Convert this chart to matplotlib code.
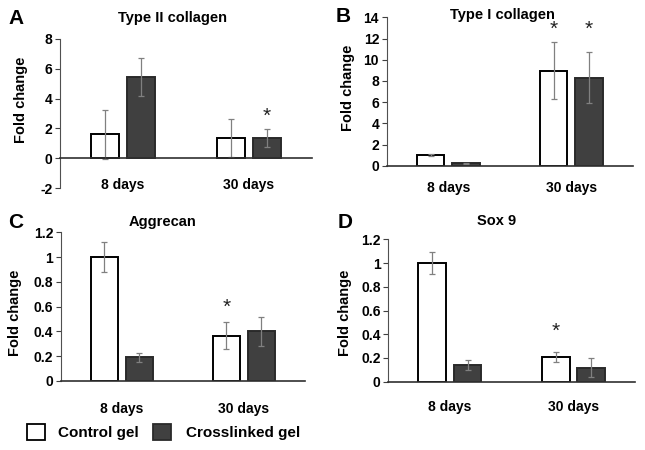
import numpy as np
import matplotlib
matplotlib.use('Agg')
import matplotlib.pyplot as plt
from matplotlib.ticker import FuncFormatter
from matplotlib.patches import Rectangle

plt.rcParams['font.family'] = ['Liberation Sans', 'DejaVu Sans']
plt.rcParams['font.weight'] = 'bold'
plt.rcParams['mathtext.fontset'] = 'custom'
plt.rcParams['mathtext.rm'] = 'Liberation Sans:weight=normal'

# ---------------------------
# Datos
# ---------------------------
categories = ['8 days', '30 days']
series = ['Control gel', 'Crosslinked gel']

titles = ['Type II collagen', 'Type I collagen', 'Aggrecan', 'Sox 9']
letters = ['A', 'B', 'C', 'D']

control_mean = [[1.6, 1.35], [1.0, 8.95], [1.0, 0.365], [1.0, 0.207]]
control_err = [[1.65, 1.25], [0.12, 2.7], [0.12, 0.11], [0.09, 0.042]]
crosslinked_mean = [[5.45, 1.35], [0.22, 8.29], [0.19, 0.40], [0.14, 0.117]]
crosslinked_err = [[1.3, 0.58], [0.06, 2.4], [0.035, 0.12], [0.045, 0.08]]

# asteriscos: (serie, categoria, altura)
stars = [[(1, 1, 2.9)],
         [(0, 1, 13.0), (1, 1, 13.0)],
         [(0, 1, 0.6)],
         [(0, 1, 0.43)]]

ylims = [(-2, 8), (0, 14), (0, 1.2), (0, 1.2)]
ysteps = [2, 2, 0.2, 0.2]

# ---------------------------
# Geometria (pixeles)
# ---------------------------
W, H = 645, 450
# (x0, x1, ytop, ybottom) del area de trazado
ax_px = [(60, 312, 39, 188), (386.7, 632.7, 17.3, 165.7),
         (60.7, 305, 232.3, 381), (388.3, 635, 239.3, 381.7)]
cat_pad = [14.5, 11, 15, 13]          # separacion etiquetas categoria (pt)
title_px = [(172, 18), (502, 14.5), (163, 222), (497, 221)]
letter_px = [(16, 18), (343, 16), (16, 222), (345, 222)]
ylabel_px = [(21, 100), (348, 88), (15, 313), (345, 313)]

fig = plt.figure(figsize=(W / 100, H / 100), dpi=100)

def fx(x):
    return x / W

def fy(y):
    return 1 - y / H

bar_w = 0.225
offs = [-0.143, 0.143]
face = ['white', '#404040']
edge = ['black', '#2a2a2a']

for k in range(4):
    x0, x1, yt, yb = ax_px[k]
    ax = fig.add_axes([fx(x0), fy(yb), fx(x1 - x0), (yb - yt) / H])
    xs = np.arange(len(categories))
    means = [control_mean[k], crosslinked_mean[k]]
    errs = [control_err[k], crosslinked_err[k]]
    for s in range(2):
        ax.bar(xs + offs[s], means[s], width=bar_w, color=face[s],
               edgecolor=edge[s], linewidth=1.4, zorder=2)
        ax.errorbar(xs + offs[s], means[s], yerr=errs[s], fmt='none',
                    ecolor='#808080', elinewidth=0.9, capsize=2.5,
                    capthick=0.9, zorder=3)
    for s, c, h in stars[k]:
        ax.text(xs[c] + offs[s], h, r'$\mathrm{*}$', ha='center', va='center',
                fontsize=15, fontweight='normal', color='#222222')

    lo, hi = ylims[k]
    ax.set_ylim(lo, hi)
    ax.set_xlim(-0.5, 1.5)
    ax.set_yticks(np.round(np.arange(lo, hi + ysteps[k] / 2, ysteps[k]), 2))
    ax.yaxis.set_major_formatter(FuncFormatter(lambda v, p: f'{v:g}'))
    ax.set_xticks(xs)
    ax.set_xticklabels(categories, fontsize=10, fontweight='bold')
    ax.tick_params(axis='x', length=0, pad=cat_pad[k])
    ax.tick_params(axis='y', direction='out', length=3.5, width=0.8,
                   pad=2, labelsize=10, color='#404040')
    for lab in ax.get_yticklabels():
        lab.set_fontweight('bold')

    ax.spines['top'].set_visible(False)
    ax.spines['right'].set_visible(False)
    ax.spines['left'].set_color('#505050')
    ax.spines['left'].set_linewidth(0.8)
    ax.spines['bottom'].set_position(('data', 0))
    ax.spines['bottom'].set_color('#303030')
    ax.spines['bottom'].set_linewidth(1.2)
    ax.spines['bottom'].set_zorder(4)
    ax.patch.set_visible(False)

    # textos del panel
    tx, ty = title_px[k]
    fig.text(fx(tx), fy(ty), titles[k], ha='center', va='center',
             fontsize=10.5, fontweight='bold')
    lx, ly = letter_px[k]
    fig.text(fx(lx), fy(ly), letters[k], ha='center', va='center',
             fontsize=15, fontweight='bold')
    yx, yy = ylabel_px[k]
    fig.text(fx(yx), fy(yy), 'Fold change', ha='center', va='center',
             rotation=90, fontsize=10.5, fontweight='bold')

# ---------------------------
# Leyenda
# ---------------------------
legend_px = [(27, 424, 58), (153, 424, 186)]
for s in range(2):
    bx, by, tx = legend_px[s]
    fig.patches.append(Rectangle((fx(bx), fy(by + 16)), fx(18), 16 / H,
                                 transform=fig.transFigure, facecolor=face[s],
                                 edgecolor=edge[s], linewidth=1.3))
    fig.text(fx(tx), fy(433), series[s], ha='left', va='center',
             fontsize=11, fontweight='bold')

fig.savefig('out.png', dpi=100)
